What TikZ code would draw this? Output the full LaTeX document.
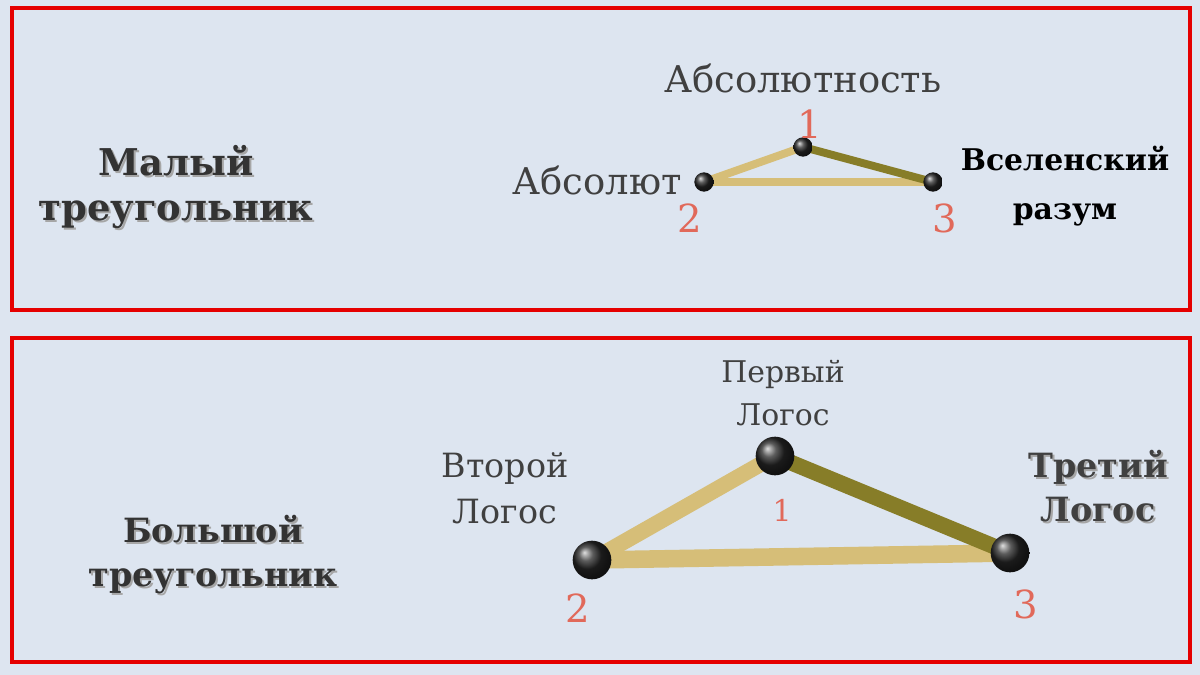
\documentclass[tikz,border=0pt]{standalone}
\usepackage{fontspec}
\setmainfont{DejaVu Serif}
\definecolor{tanc}{RGB}{214,190,120}
\definecolor{olivec}{RGB}{135,125,40}
\definecolor{numc}{RGB}{225,105,90}
\begin{document}
\begin{tikzpicture}[x=0.02cm,y=-0.02cm,
  frame/.style={draw=red!90!black,line width=2.6pt},
  lbl/.style 2 args={text=black!75,font=\fontsize{#1}{#2}\selectfont,align=center,inner sep=0pt},
  blbl/.style 2 args={text=black!80,font=\bfseries\fontsize{#1}{#2}\selectfont,align=center,inner sep=0pt},
  num/.style={text=numc,font=\fontsize{#1}{#1}\selectfont,inner sep=0pt},
  tan/.style={line width=#1,draw=tanc,line cap=round},
  olive/.style={line width=#1,draw=olivec,line cap=round},
  ball/.style={circle,shading=ball,ball color=black!85,minimum size=#1,inner sep=0pt}]
\fill[fill={rgb,255:red,221;green,229;blue,240}] (0,0) rectangle (1200,675);
\useasboundingbox (0,0) rectangle (1200,675);
\draw[frame] (12,8) rectangle (1190,310);
\draw[frame] (12,338) rectangle (1190,662);
% top
\coordinate (t1) at (803,147); \coordinate (t2) at (704,182); \coordinate (t3) at (933,182);
\draw[tan=4.5pt] (t2) -- (t3);
\draw[tan=4.5pt] (t2) -- (t1);
\draw[olive=4.5pt] (t1) -- (t3);
\node[ball=11pt] (b1) at (t1) {};
\node[ball=11pt] (b2) at (t2) {};
\node[ball=11pt] (b3) at (t3) {};
\node[lbl={21pt}{25pt}] (la) at (803,78) {Абсолютность};
\node[lbl={21pt}{25pt},anchor=east] (lb) at (682,180) {Абсолют};
\node[num=22pt] (n1) at (810,124) {1};
\node[num=22pt] (n2) at (690,218) {2};
\node[num=22pt] (n3) at (945,218) {3};
\node[text=black,font=\bfseries\fontsize{17pt}{28pt}\selectfont,align=center] (lc) at (1065,186) {Вселенский\\разум};
\node[blbl={21pt}{26pt},text=black!35] at (178,189) {Малый\\треугольник};
\node[blbl={21pt}{26pt}] (lm) at (176,187) {Малый\\треугольник};
% bottom
\coordinate (s1) at (775,456); \coordinate (s2) at (592,560); \coordinate (s3) at (1010,553);
\draw[tan=10pt] (s2) -- (s3);
\draw[tan=9pt] (s2) -- (s1);
\draw[olive=9pt] (s1) -- (s3);
\node[ball=22pt] (c1) at (s1) {};
\node[ball=22pt] (c2) at (s2) {};
\node[ball=22pt] (c3) at (s3) {};
\node[lbl={17pt}{24pt}] (pl) at (783,393) {Первый\\Логос};
\node[lbl={19pt}{26pt}] (vl) at (505,488) {Второй\\Логос};
\node[blbl={19pt}{25pt},text=black!35] at (1100,488) {Третий\\Логос};
\node[blbl={19pt}{25pt},text=black!75] (tl) at (1098,486) {Третий\\Логос};
\node[num=17pt] (m1) at (782,510) {1};
\node[num=22pt] (m2) at (578,608) {2};
\node[num=22pt] (m3) at (1026,604) {3};
\node[blbl={19pt}{25pt},text=black!35] at (215,557) {Большой\\треугольник};
\node[blbl={19pt}{25pt}] (lbg) at (213,555) {Большой\\треугольник};
\end{tikzpicture}
\end{document}
